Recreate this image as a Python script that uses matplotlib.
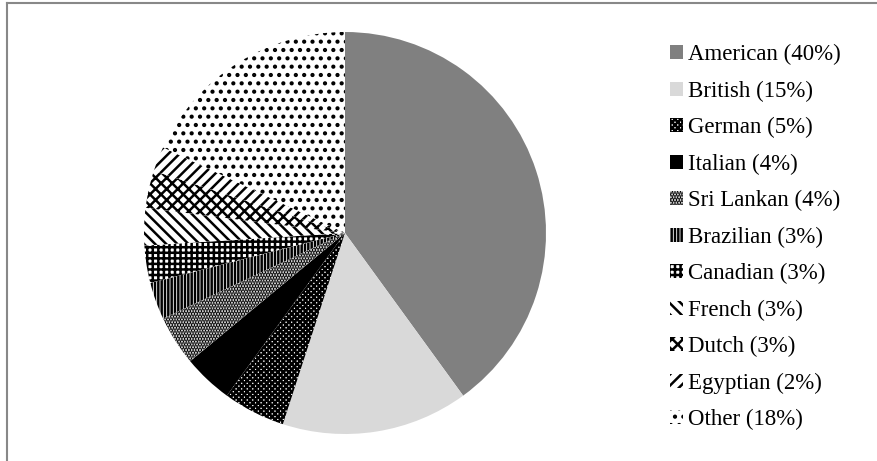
import matplotlib.pyplot as plt
from matplotlib.lines import Line2D

# data (percent shares)
nationalities = ['American', 'British', 'German', 'Italian', 'Sri Lankan', 'Brazilian',
                 'Canadian', 'French', 'Dutch', 'Egyptian', 'Other']
shares = [40, 15, 5, 4, 4, 3, 3, 3, 3, 2, 18]

fills = ['#808080', '#d9d9d9', 'white', 'black', 'white', 'white',
         'white', 'white', 'white', 'white', 'white']
hatches = [None, None, 'xxxxxx', None, '......', '|||||',
           '+++', '\\\\\\', 'xxx', '///', '..']

plt.rcParams['hatch.linewidth'] = 1.8
plt.rcParams['font.family'] = ['Liberation Serif', 'DejaVu Serif']

fig = plt.figure(figsize=(8.78, 4.61), dpi=100)
ax = fig.add_axes([144 / 878, 27 / 461, 402 / 878, 402 / 461])

wedges, _ = ax.pie(shares, startangle=90, counterclock=False,
                   colors=fills, wedgeprops=dict(linewidth=0, edgecolor='black'))
for w, h in zip(wedges, hatches):
    if h:
        w.set_hatch(h)
ax.set_xlim(-1, 1)
ax.set_ylim(-1, 1)
ax.set_aspect('equal')

labels = [f'{n} ({s}%)' for n, s in zip(nationalities, shares)]
fig.legend(wedges, labels, loc='upper left', bbox_to_anchor=(661 / 878, 1 - 35 / 461),
           frameon=False, fontsize=16.5, handlelength=0.55, handleheight=0.55,
           handletextpad=0.25, labelspacing=0.67, borderaxespad=0)

# frame of the chart area (cropped on the right and bottom)
fig.add_artist(Line2D([7.5 / 878, 1], [1 - 3.5 / 461] * 2, color='#888888', lw=1.5))
fig.add_artist(Line2D([7.5 / 878] * 2, [0, 1 - 3.5 / 461], color='#888888', lw=1.5))

fig.savefig('out.png', dpi=100)
